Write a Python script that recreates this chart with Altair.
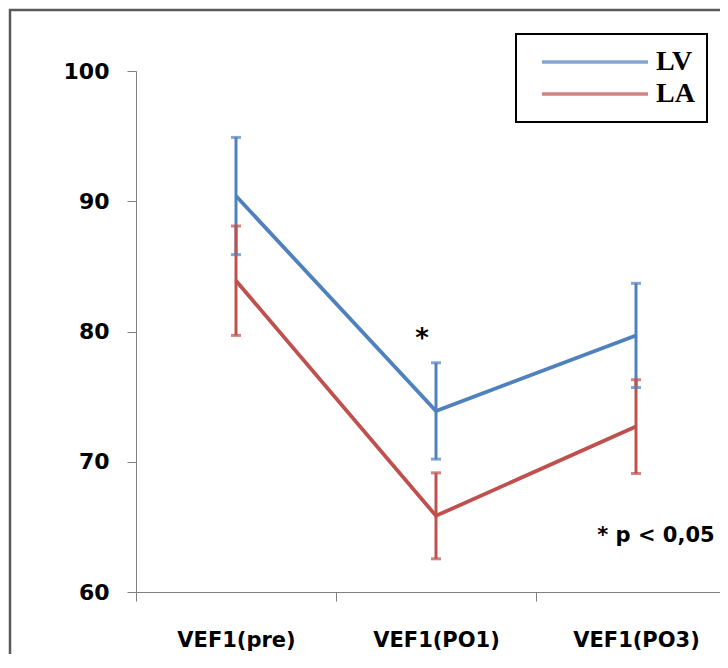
import altair as alt
import pandas as pd

# ---- data ----
categories = ["VEF1(pre)", "VEF1(PO1)", "VEF1(PO3)"]
series = ["LV", "LA"]
lv_mean = [90.4, 73.9, 79.7]
lv_sd = [4.5, 3.7, 4.0]
la_mean = [83.9, 65.85, 72.7]
la_sd = [4.2, 3.3, 3.6]
colors = ["#4F81BD", "#C0504D"]
y_ticks = [60, 70, 80, 90, 100]
note_texts = ["*", "* p < 0,05"]
note_pos = [1.43, 2.6]
note_val = [79.45, 64.3]
note_size = [26, 21]

rows = []
for s, means, sds in [("LV", lv_mean, lv_sd), ("LA", la_mean, la_sd)]:
    for i, (m, sd) in enumerate(zip(means, sds)):
        rows.append({"series": s, "cat": categories[i], "pos": i + 0.5,
                     "mean": m, "lo": m - sd, "hi": m + sd, "order": i})
df = pd.DataFrame(rows)
caps = pd.concat([df.assign(cap=df["lo"]), df.assign(cap=df["hi"])], ignore_index=True)
notes = pd.DataFrame({"text": note_texts, "pos": note_pos, "val": note_val, "size": note_size})

label_expr = "[" + ",".join("'%s'" % c for c in categories) + "][datum.value]"

x_scale = alt.Scale(domain=[0, 2.92], nice=False, zero=False)
y_scale = alt.Scale(domain=[60, 100], nice=False, zero=False)

x_axis = alt.Axis(values=[0, 1, 2], labelExpr=label_expr, labelOffset=100,
                  labelFlush=False, labelOverlap=False, labelBound=False,
                  tickSize=9, grid=False, domainColor="#808080", tickColor="#808080",
                  labelFont="DejaVu Sans", labelFontWeight="bold", labelFontSize=21,
                  labelColor="black", labelPadding=28, title=None)
y_axis = alt.Axis(values=y_ticks, format="d", tickSize=9, grid=False,
                  domainColor="#808080", tickColor="#808080",
                  labelFont="DejaVu Sans", labelFontWeight="bold", labelFontSize=22,
                  labelColor="black", labelPadding=18, title=None)

legend = alt.Legend(title=None, orient="none", legendX=380, legendY=-37,
                    symbolType="stroke", symbolSize=11236,
                    symbolStrokeWidth=3.5, clipHeight=32,
                    labelFont="Liberation Serif", labelFontWeight="bold",
                    labelFontSize=28, labelColor="black",
                    strokeColor="black", padding=12, symbolOffset=12,
                    labelOffset=6, rowPadding=0,
                    labelExpr="datum.label + '\u00a0\u00a0'")
color_enc = alt.Color("series:N", scale=alt.Scale(domain=series, range=colors), legend=legend)

frame = alt.Chart(pd.DataFrame({"a": [0]})).mark_rect(
    fillOpacity=0, stroke="#595959", strokeWidth=2.5
).encode(x=alt.value(-126), x2=alt.value(800), y=alt.value(-61), y2=alt.value(800))

base = alt.Chart(df)

stems = base.mark_rule(strokeWidth=3).encode(
    x=alt.X("pos:Q", scale=x_scale, axis=x_axis),
    y=alt.Y("lo:Q", scale=y_scale, axis=y_axis),
    y2="hi:Q",
    color=color_enc,
)

cap_marks = alt.Chart(caps).mark_tick(orient="horizontal", size=10, thickness=3).encode(
    x=alt.X("pos:Q", scale=x_scale),
    y=alt.Y("cap:Q", scale=y_scale),
    color=color_enc,
)

lines = base.mark_line(strokeWidth=3.8).encode(
    x=alt.X("pos:Q", scale=x_scale),
    y=alt.Y("mean:Q", scale=y_scale),
    order="order:Q",
    color=color_enc,
)

texts = alt.Chart(notes).mark_text(font="DejaVu Sans", fontWeight="bold", color="black",
                                   baseline="middle", align="center").encode(
    x=alt.X("pos:Q", scale=x_scale),
    y=alt.Y("val:Q", scale=y_scale),
    text="text:N",
    size=alt.Size("size:Q", scale=None, legend=None),
)

chart = alt.layer(frame, stems, cap_marks, lines, texts).properties(
    width=584, height=521,
    background="white",
    autosize=alt.AutoSizeParams(type="none"),
    padding={"left": 128, "top": 63, "right": 0, "bottom": 62},
).configure_view(stroke=None).configure_legend(strokeWidth=2)

chart.save("out.html", embed_options={"renderer": "svg", "actions": False})
